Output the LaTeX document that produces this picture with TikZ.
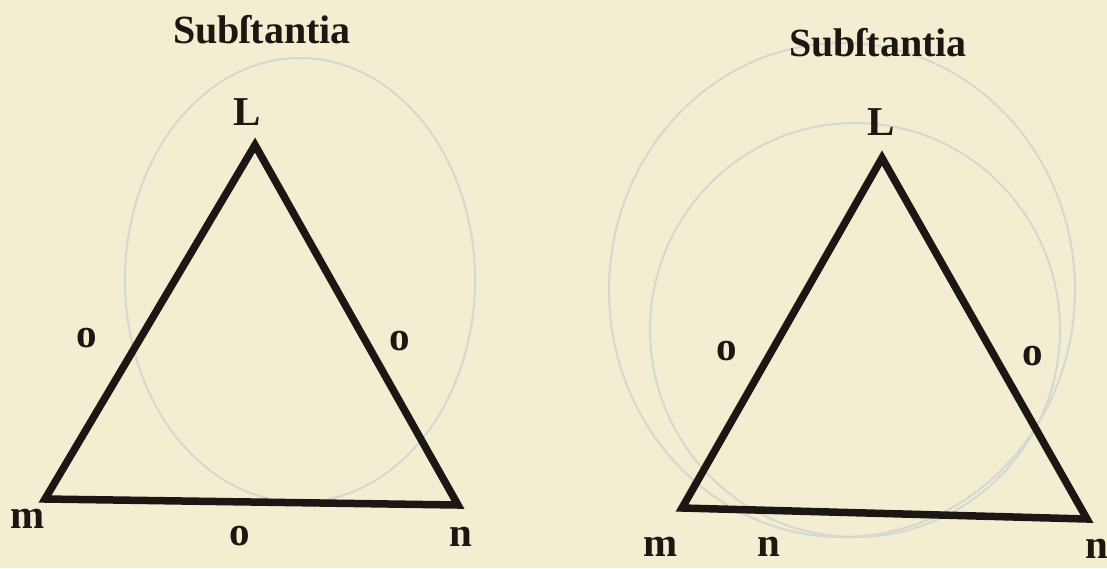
\documentclass[tikz,border=0pt]{standalone}
\usepackage{fontspec}
\setmainfont{Liberation Serif}
\definecolor{paper}{HTML}{F3EDD2}
\definecolor{ink}{HTML}{1C1712}
\definecolor{ghost}{HTML}{D5D8CE}
\tikzset{
  edge/.style={draw=ink, line width=7.5pt, line join=miter, line cap=butt},
  lbl/.style={text=ink, font=\bfseries\fontsize{41}{44}\selectfont, inner sep=0pt},
  title/.style={text=ink, font=\bfseries\fontsize{40}{44}\selectfont, inner sep=0pt},
  bleed/.style={draw=ghost, line width=2pt}
}
\begin{document}
\begin{tikzpicture}[x=1pt,y=-1pt]
\fill[paper] (0,0) rectangle (1107,568);
\useasboundingbox (0,0) rectangle (1107,568);
% faint show-through from reverse side
\draw[bleed] (300,280) ellipse [x radius=175, y radius=222];
\draw[bleed] (842,290) ellipse [x radius=233, y radius=247];
\draw[bleed] (855,330) ellipse [x radius=205, y radius=207];
% left figure
\node[title] (t1) at (262,30) {Subſtantia};
\coordinate (A1) at (255,145);
\coordinate (B1) at (45,499);
\coordinate (C1) at (458,505);
\draw[edge] (A1) -- (B1) -- (C1) -- cycle;
\node[lbl] (L1) at (247,112) {L};
\node[lbl] (oa) at (87,338) {o};
\node[lbl] (ob) at (400,341) {o};
\node[lbl] (m1) at (28,519) {m};
\node[lbl] (oc) at (240,536) {o};
\node[lbl] (n1) at (461,537) {n};
% right figure
\node[title] (t2) at (878,43) {Subſtantia};
\coordinate (A2) at (882,158);
\coordinate (B2) at (682,508);
\coordinate (C2) at (1087,519);
\draw[edge] (A2) -- (B2) -- (C2) -- cycle;
\node[lbl] (L2) at (881,122) {L};
\node[lbl] (od) at (727,351) {o};
\node[lbl] (oe) at (1033,356) {o};
\node[lbl] (m2) at (661,547) {m};
\node[lbl] (n2) at (769,547) {n};
\node[lbl] (n3) at (1097,549) {n};
\end{tikzpicture}
\end{document}
